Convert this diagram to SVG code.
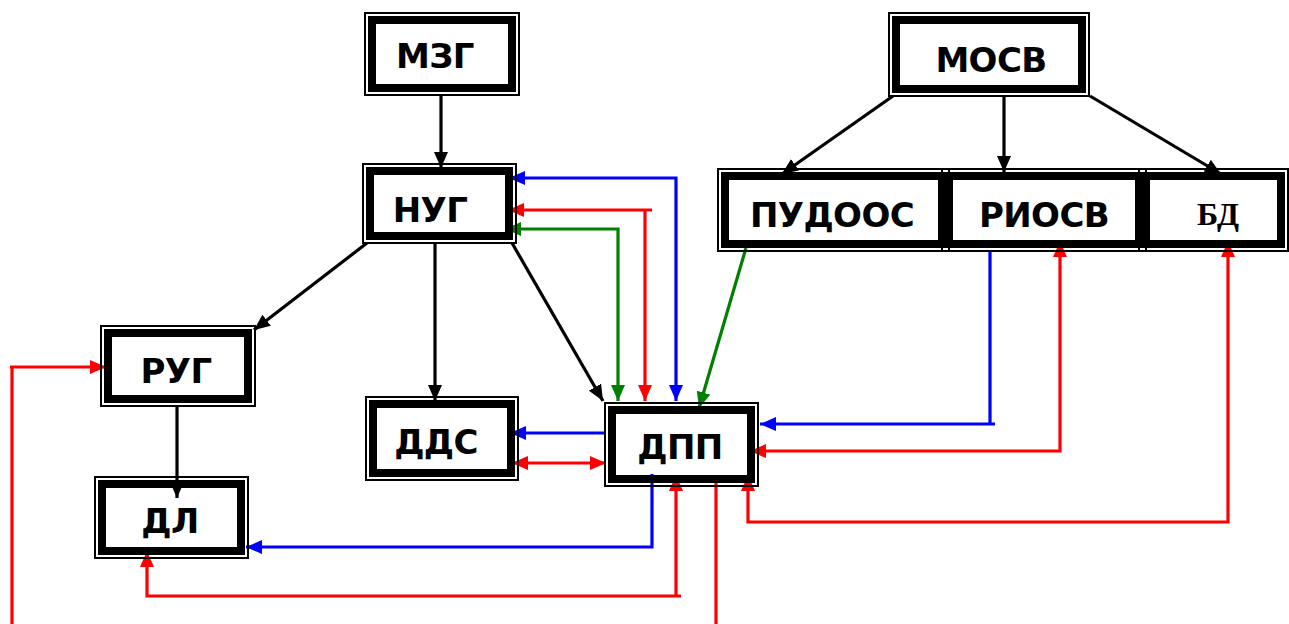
<svg xmlns="http://www.w3.org/2000/svg" width="1289" height="624" viewBox="0 0 1289 624">
  <style>
    .frame { fill: none; stroke: #000; stroke-width: 2; }
    .thick { fill: none; stroke: #000; stroke-width: 8; }
    .lbl { font-family: "DejaVu Sans", Verdana, sans-serif; font-weight: bold; font-size: 34px; letter-spacing: -0.6px; fill: #000; text-anchor: middle; }
    .lbl-serif { font-family: "Liberation Serif", "Times New Roman", serif; font-weight: bold; font-size: 32px; fill: #000; text-anchor: middle; }
    .ln { fill: none; stroke-width: 3.2; stroke-linejoin: miter; }
    .k { stroke: #000; }
    .b { stroke: #0000ff; }
    .r { stroke: #ff0000; }
    .g { stroke: #008000; }
  </style>
  <defs>
    <marker id="ak" markerUnits="userSpaceOnUse" markerWidth="16" markerHeight="14" refX="16" refY="7" orient="auto-start-reverse"><path d="M0,0 L16,7 L0,14 z" fill="#000"/></marker>
    <marker id="ab" markerUnits="userSpaceOnUse" markerWidth="16" markerHeight="14" refX="16" refY="7" orient="auto-start-reverse"><path d="M0,0 L16,7 L0,14 z" fill="#0000ff"/></marker>
    <marker id="ar" markerUnits="userSpaceOnUse" markerWidth="16" markerHeight="14" refX="16" refY="7" orient="auto-start-reverse"><path d="M0,0 L16,7 L0,14 z" fill="#ff0000"/></marker>
    <marker id="ag" markerUnits="userSpaceOnUse" markerWidth="16" markerHeight="14" refX="16" refY="7" orient="auto-start-reverse"><path d="M0,0 L16,7 L0,14 z" fill="#008000"/></marker>
  </defs>
  <rect width="1289" height="624" fill="#fff"/>

  <!-- connectors -->
  <g id="connectors">
    <!-- black: hierarchy -->
    <path class="ln k" d="M441,96 V168" marker-end="url(#ak)"/>
    <path class="ln k" d="M367,243 L254,330" marker-end="url(#ak)"/>
    <path class="ln k" d="M435,244 V401" marker-end="url(#ak)"/>
    <path class="ln k" d="M512,243 L603,401" marker-end="url(#ak)"/>
    <path class="ln k" d="M177,407 V498" marker-end="url(#ak)"/>
    <path class="ln k" d="M893,96 L782,174" marker-end="url(#ak)"/>
    <path class="ln k" d="M1004,96 V172" marker-end="url(#ak)"/>
    <path class="ln k" d="M1090,96 L1221,174" marker-end="url(#ak)"/>

    <!-- НУГ <-> ДПП -->
    <path class="ln b" d="M509,178 H676 V401" marker-start="url(#ab)" marker-end="url(#ab)"/>
    <path class="ln r" d="M508,210 H652 M645,210 V401" marker-start="url(#ar)" marker-end="url(#ar)"/>
    <path class="ln g" d="M505,229 H618 V401" marker-start="url(#ag)" marker-end="url(#ag)"/>

    <!-- ПУДООС -> ДПП -->
    <path class="ln g" d="M746,248 L699,408" marker-end="url(#ag)"/>

    <!-- ДПП <-> ДДС -->
    <path class="ln b" d="M604,433 H510" marker-end="url(#ab)"/>
    <path class="ln r" d="M512,463 H606" marker-start="url(#ar)" marker-end="url(#ar)"/>

    <!-- РИОСВ / БД <-> ДПП -->
    <path class="ln b" d="M990,252 V424 M995,424 H760" marker-end="url(#ab)"/>
    <path class="ln r" d="M750,451 H1060 V241" marker-start="url(#ar)" marker-end="url(#ar)"/>
    <path class="ln r" d="M748,475 V522 H1228 V241" marker-start="url(#ar)" marker-end="url(#ar)"/>

    <!-- ДПП <-> ДЛ -->
    <path class="ln b" d="M652,474 V547 H246" marker-end="url(#ab)"/>
    <path class="ln r" d="M147,551 V596 H681 M676,596 V475" marker-start="url(#ar)" marker-end="url(#ar)"/>

    <!-- outgoing line from ДПП -->
    <path class="ln r" d="M716,479 V624"/>

    <!-- incoming line to РУГ -->
    <path class="ln r" d="M12,624 V367 M10,367 H106" marker-end="url(#ar)"/>
  </g>

  <!-- nodes: outer thin frame + heavy inner frame -->
  <g id="n-mzg">
    <rect class="frame" x="365" y="13" width="154" height="82"/>
    <rect class="thick" x="372" y="20" width="140" height="68"/>
    <text class="lbl" x="435" y="68">МЗГ</text>
  </g>
  <g id="n-nug">
    <rect class="frame" x="363" y="164" width="153" height="79"/>
    <rect class="thick" x="370" y="171" width="139" height="65"/>
    <text class="lbl" x="430" y="222">НУГ</text>
  </g>
  <g id="n-rug">
    <rect class="frame" x="101" y="326" width="154" height="80"/>
    <rect class="thick" x="108" y="333" width="140" height="66"/>
    <text class="lbl" x="176" y="383">РУГ</text>
  </g>
  <g id="n-dl">
    <rect class="frame" x="95" y="477" width="153" height="81"/>
    <rect class="thick" x="102" y="484" width="139" height="67"/>
    <text class="lbl" x="170" y="533">ДЛ</text>
  </g>
  <g id="n-dds">
    <rect class="frame" x="366" y="397" width="152" height="83"/>
    <rect class="thick" x="373" y="404" width="138" height="69"/>
    <text class="lbl" x="436" y="454">ДДС</text>
  </g>
  <g id="n-dpp">
    <rect class="frame" x="605" y="403" width="153" height="83"/>
    <rect class="thick" x="612" y="410" width="139" height="69"/>
    <text class="lbl" x="680" y="459">ДПП</text>
  </g>
  <g id="n-mosv">
    <rect class="frame" x="889" y="13" width="200" height="83"/>
    <rect class="thick" x="896" y="20" width="186" height="69"/>
    <text class="lbl" x="991" y="72">МОСВ</text>
  </g>
  <g id="n-pudoos">
    <rect class="frame" x="718" y="169" width="231" height="82"/>
    <rect class="thick" x="725" y="176" width="217" height="68"/>
    <text class="lbl" x="832" y="227">ПУДООС</text>
  </g>
  <g id="n-riosv">
    <rect class="frame" x="942" y="169" width="204" height="82"/>
    <rect class="thick" x="949" y="176" width="190" height="68"/>
    <text class="lbl" x="1044" y="227">РИОСВ</text>
  </g>
  <g id="n-bd">
    <rect class="frame" x="1139" y="169" width="149" height="82"/>
    <rect class="thick" x="1146" y="176" width="135" height="68"/>
    <text class="lbl-serif" x="1218" y="225">БД</text>
  </g>
</svg>
